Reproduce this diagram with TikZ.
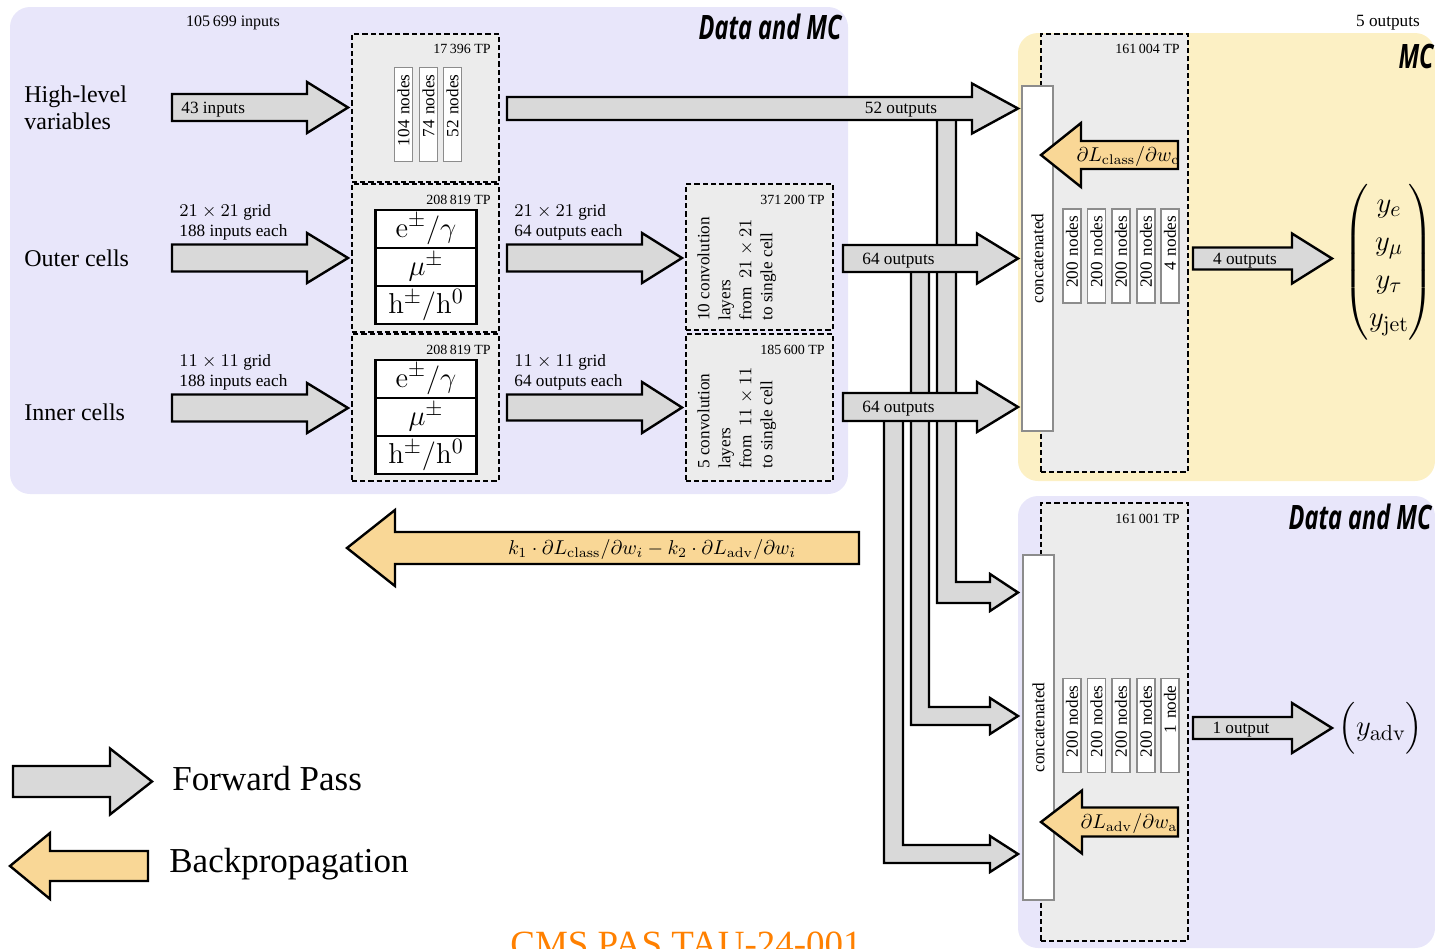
\documentclass[tikz,border=0pt]{standalone}
\usepackage[no-math]{fontspec}
\usepackage{amsmath}
\setmainfont{Liberation Serif}
\newfontfamily\headfont[FakeStretch=0.70]{Open Sans}
\usetikzlibrary{fit}

\definecolor{lav}{RGB}{232,230,250}
\definecolor{mcyel}{RGB}{252,240,196}
\definecolor{boxgray}{RGB}{236,236,236}
\definecolor{arrgray}{RGB}{217,217,217}
\definecolor{bporange}{RGB}{249,215,150}
\definecolor{barline}{RGB}{140,140,140}
\definecolor{cmsorange}{RGB}{255,128,0}

\tikzset{
  panel/.style={rounded corners=10pt},
  dashbox/.style={draw, fill=boxgray, line width=1.1pt, dash pattern=on 2.6pt off 1.5pt, inner sep=0pt},
  fwd/.style={draw, fill=arrgray, line width=1.2pt},
  bwd/.style={draw, fill=bporange, line width=1.2pt},
  cell/.style={draw, fill=white, line width=1.1pt, minimum width=50.5pt, minimum height=19pt, inner sep=0pt, font=\fontsize{15.5}{18}\selectfont},
  nodebar/.style={draw=barline, fill=white, line width=0.6pt, rotate=90, minimum height=9pt, inner ysep=0pt, inner xsep=3.5pt, text width=40pt, align=right, font=\fontsize{8.6}{10}\selectfont},
  concat/.style={draw=barline, fill=white, line width=0.6pt, inner sep=0pt},
  lbl/.style={font=\fontsize{8.6}{10}\selectfont, inner sep=0pt},
  tp/.style={font=\fontsize{7}{8}\selectfont, anchor=east, inner sep=0pt},
  side/.style={font=\fontsize{12}{13.5}\selectfont, anchor=west, inner sep=0pt, align=left},
  head/.style={font=\headfont\bfseries\itshape\fontsize{16.8}{20}\selectfont, anchor=east, inner sep=0pt},
  legendtxt/.style={font=\fontsize{17.5}{20}\selectfont, anchor=west, inner sep=0pt},
  grad/.style={font=\fontsize{10.2}{12}\selectfont, inner sep=0pt},
  convtxt/.style={font=\fontsize{8.6}{10.5}\selectfont, inner sep=0pt, rotate=90, anchor=north west, align=left},
}

% block arrow pointing right: [opts]{left x}{tip x}{centre y}{half body}{half head}{head length}
\newcommand\fatfwd[7][]{\draw[fwd,#1] (#2,{#4-#5}) -- ({#3-#7},{#4-#5}) -- ({#3-#7},{#4-#6}) -- (#3,#4) -- ({#3-#7},{#4+#6}) -- ({#3-#7},{#4+#5}) -- (#2,{#4+#5}) -- cycle;}
% block arrow pointing left: [opts]{tip x}{right x}{centre y}{half body}{half head}{head length}
\newcommand\fatback[7][]{\draw[bwd,#1] (#3,{#4-#5}) -- ({#2+#7},{#4-#5}) -- ({#2+#7},{#4-#6}) -- (#2,#4) -- ({#2+#7},{#4+#6}) -- ({#2+#7},{#4+#5}) -- (#3,{#4+#5}) -- cycle;}

\begin{document}
\begin{tikzpicture}[x=0.5pt,y=-0.5pt]
\useasboundingbox (0,0) rectangle (1435,948);

% background panels
\fill[lav, panel] (10,7) rectangle (848,494);
\fill[mcyel, panel] (1018,33) rectangle (1435,481);
\fill[lav, panel] (1018,496) rectangle (1435,948);

% trainable blocks
\node[dashbox, fit={(352,34) (499,182)}] (hlblk) {};
\node[dashbox, fit={(352,184) (499,332)}] (outblk) {};
\node[dashbox, fit={(352,334) (499,481)}] (inblk) {};
\node[dashbox, fit={(686,184) (833,330)}] (oconv) {};
\node[dashbox, fit={(686,334) (833,481)}] (iconv) {};
\node[dashbox, fit={(1041,34) (1188,472)}] (clsblk) {};
\node[dashbox, fit={(1041,503) (1188,941)}] (advblk) {};

% particle-type embeddings
\node[cell] (oe) at (426,229) {$\mathrm{e}^{\pm}/\gamma$};
\node[cell] (om) at (426,267) {$\mu^{\pm}$};
\node[cell] (oh) at (426,305) {$\mathrm{h}^{\pm}/\mathrm{h}^{0}$};
\node[cell] (ie) at (426,379) {$\mathrm{e}^{\pm}/\gamma$};
\node[cell] (im) at (426,417) {$\mu^{\pm}$};
\node[cell] (ih) at (426,455) {$\mathrm{h}^{\pm}/\mathrm{h}^{0}$};

% dense layers
\node[nodebar] (hl1) at (403.5,114.5) {104 nodes};
\node[nodebar] (hl2) at (428.5,114.5) {74 nodes};
\node[nodebar] (hl3) at (452.5,114.5) {52 nodes};

\node[nodebar] (c1) at (1072,256) {200 nodes};
\node[nodebar] (c2) at (1096.5,256) {200 nodes};
\node[nodebar] (c3) at (1121,256) {200 nodes};
\node[nodebar] (c4) at (1146,256) {200 nodes};
\node[nodebar] (c5) at (1170,256) {4 nodes};

\node[nodebar] (a1) at (1072,725.5) {200 nodes};
\node[nodebar] (a2) at (1096.5,725.5) {200 nodes};
\node[nodebar] (a3) at (1121,725.5) {200 nodes};
\node[nodebar] (a4) at (1146,725.5) {200 nodes};
\node[nodebar] (a5) at (1170,725.5) {1 node};

% concatenation layers
\node[concat, fit={(1022,86) (1053,431)}] (cat1) {};
\node[lbl, rotate=90] (cat1t) at (cat1.center) {concatenated};
\node[concat, fit={(1023,555) (1054,900)}] (cat2) {};
\node[lbl, rotate=90] (cat2t) at (cat2.center) {concatenated};

% feeds into the adversarial branch
\draw[fwd] (937,108) -- (956,108) -- (956,582) -- (990,582) -- (990,574) -- (1018,592.5) -- (990,611) -- (990,603) -- (937,603) -- cycle;
\draw[fwd] (911,258) -- (929,258) -- (929,707) -- (990,707) -- (990,698) -- (1018,716) -- (990,734) -- (990,725) -- (911,725) -- cycle;
\draw[fwd] (884,407) -- (903,407) -- (903,845) -- (990,845) -- (990,836) -- (1018,854) -- (990,872) -- (990,863) -- (884,863) -- cycle;

% forward pass
\fatfwd{172}{348}{107.5}{13.5}{25.5}{41}
\fatfwd{172}{348}{258}{13.5}{25}{41}
\fatfwd{172}{348}{408}{13.5}{25}{41}
\fatfwd{507}{682}{258}{13.5}{25}{40}
\fatfwd{507}{682}{407.5}{13}{25.5}{40}
\fatfwd{507}{1018}{108.5}{11.5}{25}{46}
\fatfwd{843}{1018}{258.5}{13.5}{25}{41}
\fatfwd{843}{1018}{407}{14}{25}{41}
\fatfwd{1193}{1332}{258.5}{11}{25}{40}
\fatfwd{1193}{1332}{728}{11}{25}{40}
\fatfwd{13}{152}{781.5}{15.5}{33}{42}

% backpropagation
\fatback{1041}{1178}{155}{14}{32}{40}
\fatback{1041}{1178}{822}{14.5}{31.5}{41}
\fatback{347}{859}{548}{16}{38}{48}
\fatback{10}{148}{866}{15}{33}{40}

% titles
\node[lbl, font=\fontsize{8}{9.6}\selectfont] (nin) at (233,23) {105\,699 inputs};
\node[lbl] (nout) at (1388,23) {5 outputs};
\node[head] (dmc1) at (842,27) {Data and MC};
\node[head] (mc) at (1434,56) {MC};
\node[head] (dmc2) at (1432,517) {Data and MC};

% inputs
\node[side] (hlv) at (24,108) {High-level\\variables};
\node[side] (oc) at (24,258) {Outer cells};
\node[side] (ic) at (24,412) {Inner cells};

\node[lbl, anchor=west] (l43) at (181,110) {43 inputs};
\node[lbl, anchor=west, align=left] (lo1) at (179,222) {$21\times21$ grid\\188 inputs each};
\node[lbl, anchor=west, align=left] (li1) at (179,372) {$11\times11$ grid\\188 inputs each};
\node[lbl, anchor=west, align=left] (lo2) at (514,222) {$21\times21$ grid\\64 outputs each};
\node[lbl, anchor=west, align=left] (li2) at (514,372) {$11\times11$ grid\\64 outputs each};

% trainable parameter counts
\node[tp] (tp1) at (491,49) {17\,396 TP};
\node[tp] (tp2) at (491,200) {208\,819 TP};
\node[tp] (tp3) at (491,350) {208\,819 TP};
\node[tp] (tp4) at (825,200) {371\,200 TP};
\node[tp] (tp5) at (825,350) {185\,600 TP};
\node[tp] (tp6) at (1180,49) {161\,004 TP};
\node[tp] (tp7) at (1180,519) {161\,001 TP};

% convolution blocks
\node[convtxt] (oct) at (697,321) {10 convolution\\layers\\from \ $21\times21$\\to single cell};
\node[convtxt] (ict) at (697,469) {5 convolution\\layers\\from \ $11\times11$\\to single cell};

% arrow labels
\node[lbl] (l52) at (901,110) {52 outputs};
\node[lbl, anchor=west] (l64a) at (862,261) {64 outputs};
\node[lbl, anchor=west] (l64b) at (862,409) {64 outputs};
\node[lbl] (l4) at (1245,261) {4 outputs};
\node[lbl] (l1) at (1241,730) {1 output};

% gradients
\node[grad] (gc) at (1128,156) {$\partial L_{\mathrm{class}}/\partial w_{\mathrm{c}}$};
\node[grad] (ga) at (1129,823) {$\partial L_{\mathrm{adv}}/\partial w_{\mathrm{a}}$};
\node[grad] (gi) at (652,549) {$k_1\cdot\partial L_{\mathrm{class}}/\partial w_i - k_2\cdot\partial L_{\mathrm{adv}}/\partial w_i$};

% outputs
\node[font=\fontsize{15.5}{19}\selectfont, inner sep=0pt] (yvec) at (1389,262) {$\begin{pmatrix} y_e\\ y_\mu\\ y_\tau\\ y_{\mathrm{jet}}\end{pmatrix}$};
\node[font=\fontsize{15.5}{19}\selectfont, inner sep=0pt] (yadv) at (1381,728) {$\Bigl(y_{\mathrm{adv}}\Bigr)$};

% legend
\node[legendtxt] (lf) at (172,779) {Forward Pass};
\node[legendtxt] (lb) at (169,864) {Backpropagation};

\node[font=\fontsize{18.5}{22}\selectfont, text=cmsorange, anchor=base, inner sep=0pt] (pas) at (686,956) {CMS PAS TAU-24-001};
\end{tikzpicture}
\end{document}
